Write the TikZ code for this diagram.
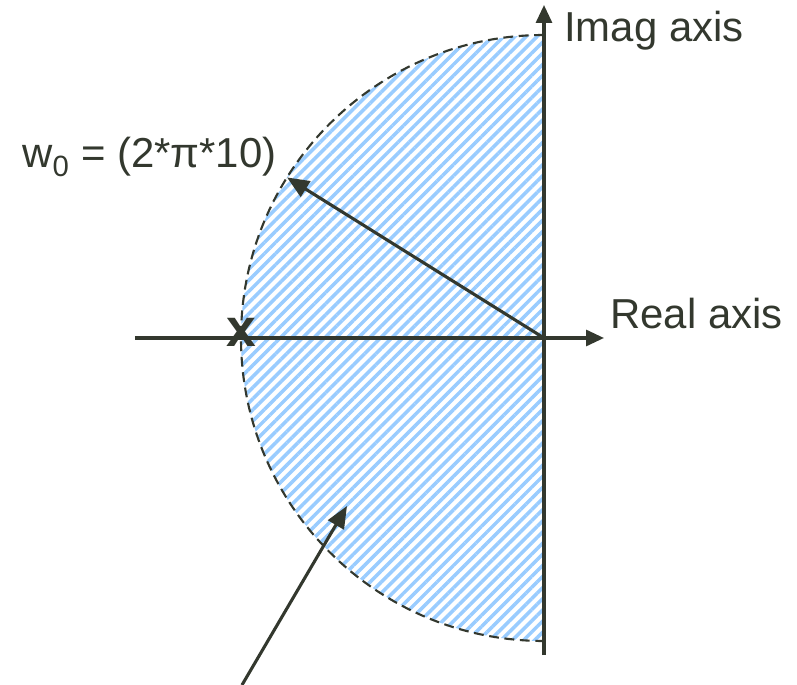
\documentclass[tikz,border=0pt]{standalone}
\usepackage{fontspec}
\setmainfont{Liberation Sans}
\usetikzlibrary{
  arrows.meta,
  positioning,
  patterns.meta
}
\definecolor{axisgray}{RGB}{51,56,46}
\definecolor{hatchblue}{RGB}{153,204,255}

\begin{document}
\begin{tikzpicture}[
      >={Triangle[length=0.45cm,width=0.4cm]},
      axis/.style={line width=2.2pt, draw=axisgray},
      lbl/.style={font=\fontsize{29.8}{35}\selectfont, text=axisgray, inner sep=0pt},
      bound/.style={line width=1.5pt, draw=axisgray, dash pattern=on 7pt off 4pt}
  ]
      \useasboundingbox (-13.6,-8.675) rectangle (6.325,8.45);

      % Stable region (left half-disk)
      \fill[pattern={Lines[angle=45,distance=5.6pt,line width=2.5pt]}, pattern color=hatchblue]
          (0,7.575) arc (90:270:7.575) -- cycle;
      \draw[bound] (0,7.575) arc (90:270:7.575);

      % Points
      \coordinate (O) at (0,0);
      \coordinate (imagtop) at (0,8.325);
      \coordinate (imagbot) at (0,-7.925);
      \coordinate (realleft) at (-10.225,0);
      \coordinate (realright) at (1.5,0);
      \coordinate (rim) at (148:7.575);
      \coordinate (tail) at (-7.55,-8.675);
      \coordinate (inside) at (-4.925,-4.2);

      % Axes
      \draw[axis, ->] (imagbot) -- (imagtop);
      \draw[axis, ->] (realleft) -- (realright);
      \draw[axis, -{Triangle[length=0.55cm,width=0.45cm]}] (O) -- (rim);
      \draw[axis, -{Triangle[length=0.55cm,width=0.45cm]}] (tail) -- (inside);

      % Labels
      \node[lbl, anchor=base west] (imag) at (0.5,7.4) {Imag axis};
      \node[lbl, anchor=base west] (real) at (1.65,0.225) {Real axis};
      \node[lbl, anchor=base west] (omega) at (-13.05,4.25) {w\textsubscript{0} = (2*π*10)};
      \node[lbl, font=\fontsize{38}{40}\selectfont\bfseries, anchor=base] (pole) at (-7.575,-0.22) {x};
\end{tikzpicture}
\end{document}
